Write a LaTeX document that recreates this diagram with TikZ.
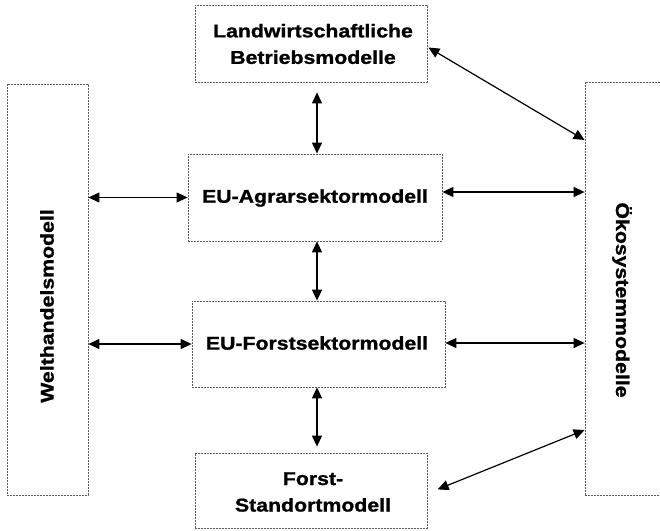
\documentclass[tikz,border=0pt]{standalone}
\usepackage{fontspec}
\setmainfont{Liberation Sans}[FakeStretch=1.15, BoldFeatures={FakeBold=1.2}]
\usetikzlibrary{arrows.meta,calc}
\begin{document}
\begin{tikzpicture}[x=1pt,y=-1pt,
  box/.style={draw=black!65, dash pattern=on 2pt off 1pt, line width=0.8pt, rectangle, inner sep=0pt},
  lab/.style={font=\fontsize{18.5}{26.5}\selectfont\bfseries, align=center, inner sep=0pt},
  arr/.style={{Triangle[length=11pt,width=10pt]}-{Triangle[length=11pt,width=10pt]}, line width=1.2pt}]
\fill[white] (0,0) rectangle (660,530);
\useasboundingbox (0,0) rectangle (660,530);
% boxes
\node[box, minimum width=232pt, minimum height=77pt] (lw) at (311,43.5) {};
\node[box, minimum width=254pt, minimum height=87pt] (agrar) at (315,197.5) {};
\node[box, minimum width=253pt, minimum height=86pt] (forst) at (318.5,344) {};
\node[box, minimum width=232pt, minimum height=75pt] (stand) at (311,490.5) {};
\node[box, minimum width=81pt, minimum height=411pt] (welt) at (47.5,289.5) {};
\node[box, minimum width=77pt, minimum height=413pt] (oeko) at (623.5,288.5) {};
% labels
\node[lab] (lwt) at (313,44) {Landwirtschaftliche\\Betriebsmodelle};
\node[lab] (agrart) at (315,198) {EU-Agrarsektormodell};
\node[lab] (forstt) at (317,343) {EU-Forstsektormodell};
\node[lab] (standt) at (313,492) {Forst-\\Standortmodell};
\node[lab, rotate=90] (weltt) at (47,306) {Welthandelsmodell};
\node[lab, rotate=-90] (oekot) at (622,300) {Ökosystemmodelle};
% connectors
\coordinate (xc) at (317,0);
\draw[arr, shorten <=10pt] (xc |- lw.south) -- (xc |- agrar.north);
\draw[arr] (xc |- agrar.south) -- (xc |- forst.north);
\draw[arr, shorten >=6pt] (xc |- forst.south) -- (xc |- stand.north);
\draw[arr] (welt.east |- agrar.west) -- (agrar.west);
\draw[arr] (welt.east |- forst.west) -- (forst.west);
\coordinate (ya) at (0,192);
\coordinate (yf) at (0,343);
\draw[arr] (agrar.east |- ya) -- (oeko.west |- ya);
\draw[arr] (forst.east |- yf) -- (oeko.west |- yf);
\coordinate (yd1) at (0,140);
\coordinate (yd2) at (0,430);
\draw[arr] ($(lw.east)+(1,4)$) -- (oeko.west |- yd1);
\draw[arr, shorten <=11pt] ($(stand.east)+(0,3)$) -- (oeko.west |- yd2);
\end{tikzpicture}
\end{document}
